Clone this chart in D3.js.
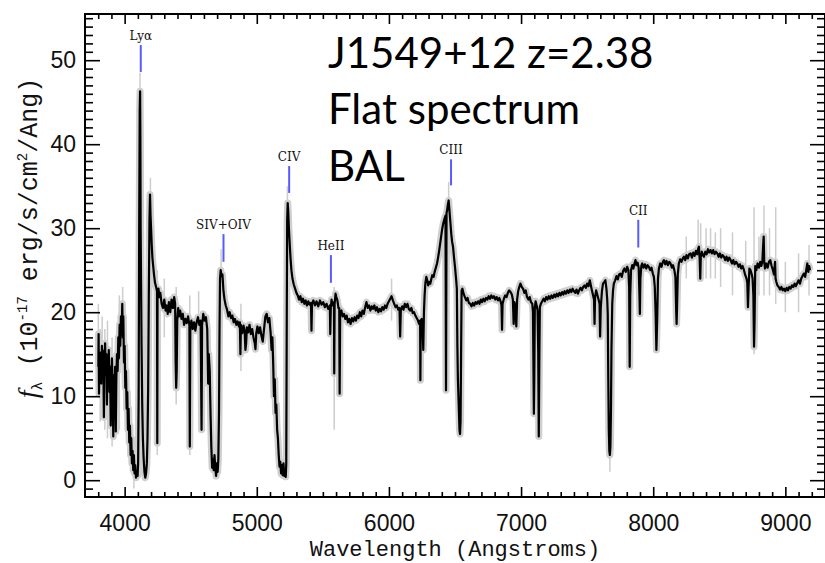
<!DOCTYPE html>
<html>
<head>
<meta charset="utf-8">
<script src="https://cdn.jsdelivr.net/npm/d3@7"></script>
<style>
  body { margin: 0; background: #fff; }
  svg { display: block; }
</style>
</head>
<body>
<svg id="chart" width="825" height="563"></svg>
<script>
// tick labels
const xTicks = [4000, 5000, 6000, 7000, 8000, 9000];
const yTicks = [0, 10, 20, 30, 40, 50];

// emission line markers
const lineNames = ["Lyα", "SIV+OIV", "CIV", "HeII", "CIII", "CII"];
const lineWaves = [4122, 4748, 5245, 5561, 6470, 7887];
const markLow = [48.6, 26.0, 34.2, 23.5, 35.1, 27.7];
const markHigh = [51.8, 29.3, 37.4, 26.8, 38.2, 31.0];

// overlay text
const notes = ["J1549+12 z=2.38", "Flat spectrum", "BAL"];

// spectrum [wavelength, flux]
const specBlue = [[3801,13.5],[3803,17.4],[3806,10.3],[3810,14.5],[3814,12.5],[3818,15.2],[3823,11.5],[3828,16],[3833,13.2],[3838,15.4],[3843,7.5],[3847,13.8],[3852,16.3],[3857,12.5],[3862,15],[3866,9],[3870,14],[3875,12],[3880,15.5],[3885,10.5],[3890,13.5],[3895,6.5],[3899,12],[3904,14.5],[3909,11],[3914,5.2],[3918,12.5],[3923,9.5],[3928,13.5],[3933,5.8],[3937,12],[3942,15],[3947,13],[3952,17],[3957,14.5],[3962,18.5],[3967,16],[3972,19.5],[3977,17.5],[3982,21],[3986,17],[3990,19.5],[3995,14],[4000,16],[4005,11],[4010,13],[4015,8.5],[4020,10.5],[4025,6],[4030,8.5],[4035,4.5],[4040,6.5],[4045,3],[4050,5],[4055,2],[4060,3.5],[4065,1.2],[4070,3],[4075,0.8],[4080,1.8],[4086,0.3],[4092,1],[4098,0.5],[4102,2]];
const specLya = [[4106,10],[4110,30],[4114,44],[4117,46.3],[4119,41],[4121,30],[4124,24],[4128,16],[4133,9],[4138,5],[4144,2.5],[4150,1],[4156,0.3],[4162,0.8],[4168,2],[4173,5],[4178,11],[4183,22],[4188,31],[4192,34],[4196,31.5],[4200,30],[4205,28],[4210,26.5],[4216,25.5],[4222,24.5],[4230,23.5],[4238,23],[4245,22.5],[4247,4.4],[4249,22],[4256,22.8],[4263,21.8]];
const specSiiv = [[4270,22.3],[4280,21],[4290,20.5],[4300,21.5],[4310,20.2],[4318,20.8],[4326,19.8],[4335,21.2],[4345,20],[4355,21.5],[4365,20.5],[4375,21.8],[4382,21],[4386,14],[4390,11],[4394,13],[4398,19],[4405,20.5],[4412,19.5],[4420,20.2],[4430,19.2],[4440,19.8],[4450,18.5],[4460,19.2],[4470,18.7],[4480,19.5],[4490,18.5],[4493,4],[4497,18.2],[4505,19],[4515,18],[4525,18.8],[4535,17.8],[4545,18.8],[4555,19.4],[4565,18.5],[4575,19],[4582,6],[4586,18.5],[4595,19.8],[4605,19],[4615,19.4],[4625,18],[4632,11.5],[4637,15],[4644,13],[4650,8],[4656,4],[4662,1.5],[4668,2.5],[4674,1.2],[4680,3],[4686,1.5],[4692,0.5],[4698,2],[4704,1],[4709,2.5],[4714,8]];
const specSivPeak = [[4718,18],[4722,24],[4727,25],[4733,24.3],[4740,24.5],[4748,22.5],[4756,21.5],[4765,20.8],[4775,20.3],[4785,19.5],[4795,20],[4805,19.3],[4815,19.6],[4825,18.8],[4835,19.2],[4845,18.5],[4855,18.9],[4865,18.3],[4872,18.8],[4876,15],[4880,18.5],[4890,17.5],[4900,18.4],[4908,17.8],[4914,15.5],[4919,16.2],[4925,18.2],[4935,17.6],[4945,18.5],[4955,17.4],[4965,18],[4975,17],[4985,16.3],[4990,15.6],[4996,17.5],[5005,18.3],[5015,17.5],[5025,18.2],[5035,17.2],[5045,16.5],[5055,18],[5065,19.5],[5075,19.8],[5085,18.8],[5095,19.3],[5105,17.5],[5112,15.5],[5118,17],[5124,14],[5130,10],[5136,12],[5142,8],[5148,9],[5154,6],[5160,5],[5166,3],[5172,1.6],[5178,2.2],[5184,0.8],[5190,1.8],[5196,0.6],[5202,2],[5208,0.5],[5214,1.2],[5219,0.4],[5223,2]];
const specCiv = [[5227,20],[5230,31],[5234,33],[5238,32],[5243,30],[5248,28.5],[5255,26.5],[5262,25],[5270,24],[5280,23.3],[5290,22.8],[5300,22.3],[5310,22],[5320,21.5],[5330,21.9],[5340,21.2],[5350,21.6],[5360,21],[5370,21.4],[5380,20.8],[5390,21.3],[5400,20.9],[5410,21.1],[5414,17.8],[5418,21],[5428,21.4],[5440,20.8],[5452,21.3],[5465,20.7],[5478,21.4],[5490,20.9],[5503,21.2],[5515,20.6],[5528,21],[5540,20.4],[5553,20.8],[5556,17.4],[5560,20.5],[5566,21.5],[5572,20.8],[5584,21.2],[5586,12.7],[5589,21],[5596,22.2],[5602,21.8],[5610,21.4],[5618,20.5],[5624,20.5],[5627,10.3],[5631,20],[5640,20.2],[5650,19.5],[5660,19.8],[5670,19.2],[5680,19.6],[5690,18.8],[5700,19.2],[5710,18.6],[5720,19.3],[5730,18.9],[5740,19.4],[5750,19],[5760,19.6],[5770,19.3],[5780,20],[5790,19.5],[5800,20.2],[5810,19.8],[5820,20.6],[5830,21.2],[5840,20.5],[5850,20.8],[5860,20.2],[5870,20.7],[5880,20.4],[5890,20.8],[5900,20.2],[5910,20.6],[5920,20],[5930,20.4],[5940,20.1],[5950,20.6],[5960,20.3],[5970,20.8],[5980,20.5],[5990,21],[6000,21.3],[6010,21.6],[6020,21.9],[6030,21.4],[6040,21],[6050,20.6],[6060,20.8],[6070,20.3],[6080,20.5],[6085,17.1],[6090,20.2],[6100,20.7],[6110,20.3],[6120,21],[6130,20.6],[6140,21],[6150,20.4],[6160,20.2],[6170,20.5],[6180,19.9],[6190,20],[6200,19.6],[6210,19.3],[6220,19],[6228,18.6],[6236,19],[6238,11.9],[6241,19],[6248,19.2],[6254,18.5],[6260,15.5],[6265,20]];
const specCiii = [[6270,22],[6276,23.5],[6283,24.2],[6290,23.8],[6297,23.2],[6305,23.6],[6313,23.4],[6320,23.9],[6328,24.4],[6338,24.2],[6346,24.8],[6355,25.3],[6364,25.8],[6372,26.5],[6380,27.3],[6388,28.2],[6395,29],[6402,29.8],[6410,30.5],[6418,31],[6424,31.3],[6428,31.5],[6432,10.7],[6436,31.8],[6440,32.1],[6446,32.8],[6452,33.3],[6456,32.5],[6461,31.5],[6466,30.5],[6472,29.3],[6478,28.4],[6485,27.8],[6492,26.6],[6500,25.4],[6508,24],[6514,22.8],[6518,16],[6522,12],[6526,10],[6530,8],[6534,6],[6538,5.5],[6542,7],[6546,15],[6550,22.6],[6556,22.8]];
const specMid = [[6565,22.2],[6575,21.8],[6585,21.4],[6595,21.7],[6605,21.1],[6615,21],[6625,20.7],[6635,21.1],[6645,20.8],[6655,21.2],[6665,21],[6675,21.3],[6685,21],[6695,21.5],[6705,21.2],[6715,21.6],[6725,21.3],[6735,21.7],[6745,21.5],[6755,21.9],[6765,21.6],[6775,22],[6785,21.7],[6795,21.9],[6805,21.5],[6815,21.8],[6825,21.4],[6835,21.7],[6845,21.3],[6852,20.8],[6856,17.9],[6860,21],[6870,21.6],[6880,22],[6890,21.8],[6900,22.3],[6910,22.6],[6920,22.4],[6930,22.1],[6938,21.5],[6944,18.6],[6950,21.2],[6958,20.5],[6964,18.3],[6970,21.5],[6978,22.5],[6986,23],[6995,23.4],[7005,23],[7015,22.8],[7025,22.3],[7035,22.6],[7045,21.8],[7055,21.5],[7065,21.8],[7075,21.2],[7085,21],[7090,20],[7094,13],[7097,7.9],[7100,12],[7104,20.5],[7110,21.3],[7118,20.8],[7125,20.2],[7130,15],[7134,5.2],[7138,14],[7142,20.6],[7150,21],[7160,21.3],[7170,21.6],[7180,21.3],[7190,21.8],[7200,21.5],[7210,21.9],[7220,21.6],[7230,22],[7240,21.7],[7250,22.1],[7260,21.8],[7270,22.2],[7280,21.9],[7290,22.3],[7300,22],[7310,22.4],[7320,22.1],[7330,22.5],[7340,22.2],[7350,22.6],[7360,22.3],[7370,22.7],[7380,22.4],[7390,22.8],[7400,22.5],[7410,22.3],[7420,22.7],[7430,22.2],[7440,22.6],[7450,22.9],[7460,22.6],[7470,23],[7480,23.2],[7490,22.9],[7500,23.4],[7510,23.1],[7520,23.8],[7528,23.2],[7536,22.6],[7545,22],[7552,21.5],[7556,18.6],[7560,21.8],[7568,22.6],[7575,22.2],[7585,21.6],[7594,21],[7598,17.1],[7603,20.5],[7612,22.5],[7620,23.4],[7630,23.6],[7638,23.8],[7646,22.8],[7652,21.5],[7656,19.8],[7660,12],[7664,6],[7668,3.5],[7672,3],[7676,4],[7680,8],[7684,15.5],[7690,21],[7696,22.6],[7702,23.4]];
const specRed = [[7712,23.8],[7722,24.3],[7732,23.9],[7742,24.5],[7752,24.6],[7762,24.2],[7772,24.9],[7782,25.2],[7792,24.8],[7803,25.4],[7812,25],[7818,23],[7822,13.5],[7826,22],[7832,25],[7841,25.6],[7850,25.2],[7858,25.8],[7866,26.2],[7874,25.6],[7882,25.9],[7890,25.3],[7896,22],[7899,19.8],[7903,24],[7910,25.5],[7917,25.8],[7927,25.3],[7937,25.7],[7947,25.2],[7957,25.6],[7967,25.4],[7977,25],[7987,25.3],[7997,24.6],[8005,24.2],[8012,23],[8018,20],[8024,15.5],[8030,19],[8036,24],[8043,25.2],[8053,25.8],[8063,25.4],[8073,26],[8081,26.2],[8091,25.7],[8101,26.1],[8111,25.6],[8121,26],[8131,25.8],[8141,25.3],[8150,25.6],[8160,25],[8168,24.2],[8174,20],[8177,18.6],[8181,21],[8186,24.5],[8194,25.8],[8204,26.3],[8214,26],[8224,26.4],[8232,26.6],[8242,26.2],[8252,26.8],[8262,26.4],[8272,26.9],[8283,27],[8293,26.5],[8303,27.1],[8313,26.7],[8323,27.3],[8333,26.9],[8340,27.5],[8346,27.8],[8352,26.2],[8356,24],[8360,26.5],[8368,27.2],[8376,26.8],[8384,26.6],[8394,27.2],[8404,26.9],[8414,27.5],[8424,27.1],[8434,27.4],[8444,27],[8454,27.4],[8464,26.9],[8474,27.2],[8485,27],[8495,26.6],[8505,27],[8515,26.5],[8525,26.8],[8535,26.6],[8545,26.2],[8555,26.6],[8565,26.1],[8575,26.5],[8586,26.2],[8596,25.8],[8606,26.2],[8616,25.7],[8626,26],[8636,25.8],[8646,25.4],[8656,25.7],[8666,25.2],[8676,25.5],[8687,25],[8695,24.5],[8706,24],[8712,23.5],[8717,20.6],[8722,23],[8728,25.2],[8736,25],[8744,24.6],[8752,24],[8758,22],[8763,15.9],[8767,19],[8772,25.5],[8780,25],[8790,25.8],[8800,25.3],[8810,26],[8818,25.5],[8826,26],[8832,28],[8836,29],[8840,26],[8846,25.2],[8856,25.8],[8866,25.3],[8876,26],[8886,26.2],[8896,25.5],[8906,25],[8914,24.5],[8922,26],[8926,24],[8932,23.6],[8940,23.2],[8950,23],[8960,22.7],[8970,23],[8980,22.6],[8990,22.8],[9000,22.5],[9010,22.9],[9020,22.6],[9030,23],[9040,22.8],[9050,23.2],[9060,23],[9070,23.4],[9080,23.1],[9091,23.5],[9100,23.8],[9110,23.4],[9120,24],[9130,24.3],[9140,24.6],[9150,24.2],[9158,25],[9166,25.8],[9174,24.8],[9180,25.5],[9187,25]];

// grey error spikes [wavelength, low, high]
const errSpikes = [[3801,10,21],[3815,7,18],[3830,8,19.5],[3850,6,18],[3870,5,19],[3905,4,17],[3960,6,22],[3985,12,23],[4070,-1,4],[4116,38,48.5],[4195,28,36],[4247,3,25],[4300,17,24],[4390,9,23],[4493,3,22],[4560,15,22.5],[4730,20,27.5],[4880,13,21],[5232,28,35],[5586,6,23],[6020,19,24],[6452,30,35.5],[7672,1,24],[8250,24,29],[8340,24,31],[8359,24,30.6],[8400,24,30],[8434,24,30],[8470,24,29.5],[8510,23,30],[8600,22,29.5],[8700,22,28.5],[8763,15,32.5],[8800,22,29],[8838,22,32.7],[8880,22,30],[8927,21,32.5],[9000,20,26],[9100,20,27],[9179,22,28]];

const spectrum = [].concat(specBlue, specLya, specSiiv, specSivPeak, specCiv, specCiii, specMid, specRed);

const svg = d3.select('#chart');
const frame = { left: 85, right: 825, top: 14, bottom: 497 };

const x = d3.scaleLinear().domain([3700, 9300]).range([frame.left, frame.right]);
const y = d3.scaleLinear().domain([-2, 55.5]).range([frame.bottom, frame.top]);

const line = d3.line().x(d => x(d[0])).y(d => y(d[1]));

// grey noise under the black trace
svg.append('g')
  .selectAll('line')
  .data(errSpikes)
  .enter().append('line')
  .attr('x1', d => x(d[0])).attr('x2', d => x(d[0]))
  .attr('y1', d => y(d[1])).attr('y2', d => y(d[2]))
  .attr('stroke', '#cdcdcd')
  .attr('stroke-width', 1.5);

svg.append('path')
  .datum(spectrum)
  .attr('d', line)
  .attr('fill', 'none')
  .attr('stroke', '#cfcfcf')
  .attr('stroke-width', 7)
  .attr('stroke-linejoin', 'round');

svg.append('path')
  .datum(spectrum)
  .attr('d', line)
  .attr('fill', 'none')
  .attr('stroke', '#000')
  .attr('stroke-width', 2.2)
  .attr('stroke-linejoin', 'round');

// axes, ticks pointing inward on all four sides
const minorX = d3.range(3800, 9300, 100).filter(v => v % 1000 !== 0);
const minorY = d3.range(-1, 56, 1).filter(v => v % 10 !== 0);

function styleAxis(g) {
  g.select('.domain').remove();
  g.selectAll('.tick line').attr('stroke', '#000').attr('stroke-width', 1.6);
}

svg.append('g')
  .attr('transform', `translate(0,${frame.bottom})`)
  .call(d3.axisBottom(x).tickValues(minorX).tickSize(-5).tickFormat(''))
  .call(styleAxis);
svg.append('g')
  .attr('transform', `translate(0,${frame.bottom})`)
  .call(d3.axisBottom(x).tickValues(xTicks).tickSize(-10).tickPadding(18).tickFormat(d3.format('d')))
  .call(styleAxis)
  .selectAll('text')
  .attr('font-family', 'Liberation Sans, Arial, sans-serif')
  .attr('font-size', 23)
  .attr('fill', '#111');

svg.append('g')
  .attr('transform', `translate(0,${frame.top})`)
  .call(d3.axisTop(x).tickValues(minorX).tickSize(-5).tickFormat(''))
  .call(styleAxis);
svg.append('g')
  .attr('transform', `translate(0,${frame.top})`)
  .call(d3.axisTop(x).tickValues(xTicks).tickSize(-10).tickFormat(''))
  .call(styleAxis);

svg.append('g')
  .attr('transform', `translate(${frame.left},0)`)
  .call(d3.axisLeft(y).tickValues(minorY).tickSize(-8).tickFormat(''))
  .call(styleAxis);
svg.append('g')
  .attr('transform', `translate(${frame.left},0)`)
  .call(d3.axisLeft(y).tickValues(yTicks).tickSize(-15).tickPadding(9))
  .call(styleAxis)
  .selectAll('text')
  .attr('font-family', 'Liberation Sans, Arial, sans-serif')
  .attr('font-size', 23)
  .attr('fill', '#111');

svg.append('g')
  .attr('transform', `translate(${frame.right},0)`)
  .call(d3.axisRight(y).tickValues(minorY).tickSize(-8).tickFormat(''))
  .call(styleAxis);
svg.append('g')
  .attr('transform', `translate(${frame.right},0)`)
  .call(d3.axisRight(y).tickValues(yTicks).tickSize(-15).tickFormat(''))
  .call(styleAxis);

svg.append('rect')
  .attr('x', frame.left).attr('y', frame.top)
  .attr('width', frame.right - frame.left).attr('height', frame.bottom - frame.top)
  .attr('fill', 'none')
  .attr('stroke', '#000')
  .attr('stroke-width', 2);

// axis titles
svg.append('text')
  .attr('x', 455).attr('y', 556)
  .attr('text-anchor', 'middle')
  .attr('font-family', 'Liberation Mono, monospace')
  .attr('font-size', 22)
  .attr('fill', '#111')
  .text('Wavelength (Angstroms)');

const yTitle = svg.append('text')
  .attr('transform', 'translate(37,238) rotate(-90)')
  .attr('text-anchor', 'middle')
  .attr('font-family', 'Liberation Mono, monospace')
  .attr('font-size', 25)
  .attr('fill', '#111');
yTitle.append('tspan').attr('font-style', 'italic').attr('font-family', 'Liberation Serif, serif').attr('font-size', 28).text('f');
yTitle.append('tspan').attr('font-size', 15).attr('dy', 5).text('λ');
yTitle.append('tspan').attr('dy', -5).text(' (10');
yTitle.append('tspan').attr('font-size', 14).attr('dy', -10).text('-17');
yTitle.append('tspan').attr('dy', 10).text(' erg/s/cm');
yTitle.append('tspan').attr('font-size', 14).attr('dy', -10).text('2');
yTitle.append('tspan').attr('dy', 10).text('/Ang)');

// line markers
const marks = svg.append('g');
lineNames.forEach((name, i) => {
  marks.append('line')
    .attr('x1', x(lineWaves[i])).attr('x2', x(lineWaves[i]))
    .attr('y1', y(markLow[i])).attr('y2', y(markHigh[i]))
    .attr('stroke', '#5a5aff')
    .attr('stroke-width', 2);
  marks.append('text')
    .attr('x', x(lineWaves[i]))
    .attr('y', y(markHigh[i]) - 5)
    .attr('text-anchor', 'middle')
    .attr('font-family', 'DejaVu Serif, serif')
    .attr('font-size', 12)
    .attr('fill', '#111')
    .text(name);
});

// overlay annotation
notes.forEach((t, i) => {
  svg.append('text')
    .attr('x', 328)
    .attr('y', [68, 124, 181][i])
    .attr('font-family', 'Lato, sans-serif')
    .attr('font-size', 42)
    .attr('fill', '#000')
    .text(t);
});
</script>
</body>
</html>
